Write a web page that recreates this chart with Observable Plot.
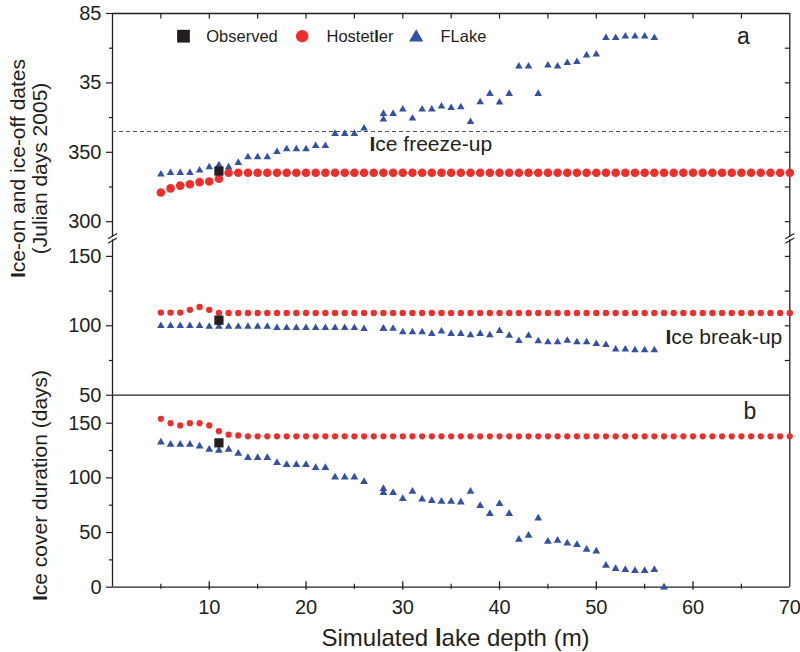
<!DOCTYPE html>
<html><head><meta charset="utf-8">
<script src="https://cdn.jsdelivr.net/npm/d3@7"></script>
<script src="https://cdn.jsdelivr.net/npm/@observablehq/plot@0.6"></script>
<style>
body{margin:0;background:#fff;}
#chart{width:800px;height:652px;position:relative;overflow:hidden;background:#fff;}
#chart svg{display:block;overflow:visible;}
</style></head><body><div id="chart"></div>
<script>
// ---------------- data ----------------
const depthHost = [5,6,7,8,9,10,11,12,13,14,15,16,17,18,19,20,21,22,23,24,25,26,27,28,29,30,31,32,33,34,35,36,37,38,39,40,41,42,43,44,45,46,47,48,49,50,51,52,53,54,55,56,57,58,59,60,61,62,63,64,65,66,67,68,69,70];
const hostOn = [321,324,326,327,328.5,329,331,
  335.3,335.3,335.3,335.3,335.3,335.3,335.3,335.3,335.3,335.3,
  335.3,335.3,335.3,335.3,335.3,335.3,335.3,335.3,335.3,335.3,
  335.3,335.3,335.3,335.3,335.3,335.3,335.3,335.3,335.3,335.3,
  335.3,335.3,335.3,335.3,335.3,335.3,335.3,335.3,335.3,335.3,
  335.3,335.3,335.3,335.3,335.3,335.3,335.3,335.3,335.3,335.3,
  335.3,335.3,335.3,335.3,335.3,335.3,335.3,335.3,335.3];
const hostOff = [109.5,109.5,109.5,111.5,113.5,111.5,109.2,
  109.2,109.2,109.2,109.2,109.2,109.2,109.2,109.2,109.2,109.2,
  109.2,109.2,109.2,109.2,109.2,109.2,109.2,109.2,109.2,109.2,
  109.2,109.2,109.2,109.2,109.2,109.2,109.2,109.2,109.2,109.2,
  109.2,109.2,109.2,109.2,109.2,109.2,109.2,109.2,109.2,109.2,
  109.2,109.2,109.2,109.2,109.2,109.2,109.2,109.2,109.2,109.2,
  109.2,109.2,109.2,109.2,109.2,109.2,109.2,109.2,109.2];
const hostDur = [154,150,148,150,150,148,142.7,139.5,138.8,
  138,138,138,138,138,138,138,138,138,138,
  138,138,138,138,138,138,138,138,138,138,
  138,138,138,138,138,138,138,138,138,138,
  138,138,138,138,138,138,138,138,138,138,
  138,138,138,138,138,138,138,138,138,138,
  138,138,138,138,138,138,138];

const depthFlake = [5,6,7,8,9,10,11,12,13,14,15,16,17,18,19,20,21,22,23,24,25,26,28,28,29,30,31,32,33,34,35,36,37,38,39,40,41,42,43,44,45,46,47,48,49,50,51,52,53,54,55,56];
const flakeOn = [334.1,335.3,335.3,335.3,337.0,339.4,340.8,339.4,342.5,346.6,
  346.6,346.6,350.4,352.3,352.3,352.3,354.7,354.7,363.4,363.4,
  363.4,367.2,377.8,373.7,377.8,380.9,374.4,380.9,380.9,383.1,
  382.1,382.6,372.0,386.2,392.2,386.0,392.2,411.9,411.9,392.2,
  412.6,411.9,414.5,415.2,419.8,420.5,432.5,432.5,433.5,433.5,
  433.5,432.5];
const flakeOff = [100,100,100,100,100,99.5,99.5,99.5,99.5,99.5,
  99.5,99.5,98.5,98.5,98.5,98.5,98.5,98.5,98.5,98.5,
  98.5,97.8,98,98,98,95.5,95.5,95.5,94.3,96,
  94.3,94.3,93.3,94.3,93.3,96.3,93,89.2,93,89,
  88.2,88.2,89.3,88.2,88.2,87,86.3,83,83,82.5,
  82.5,82.5];
const depthFlakeDur = [5,6,7,8,9,10,11,12,13,14,15,16,17,18,19,20,21,22,23,24,25,26,28,28,29,30,31,32,33,34,35,36,37,38,39,40,41,42,43,44,45,46,47,48,49,50,51,52,53,54,55,56,57];
const flakeDur = [132.6,130.5,130.5,130.5,129.0,126.0,125.0,126.0,122.3,118.3,
  118.3,118.3,113.8,111.9,111.9,111.9,109.2,109.2,100.6,100.6,
  100.6,96.4,90.0,86.3,86.3,80.8,87.5,80.5,79.0,78.4,
  78.4,77.8,87.5,74.5,67.1,76.3,67.1,43.6,47.3,63.1,
  41.8,42.7,40.2,38.8,34.5,32.9,19.8,16.8,15.9,15.0,
  15.0,15.9,0];

const depthObs = [11];
const obsOn = [336.5];
const obsOff = [104];
const obsDur = [132];

const freezeDay = 365;

// ticks
const aTickValues = [50,100,150,300,350,400,450];
const aTickLabels = ["50","100","150","300","350","35","85"];
const aMinorTicks = [75,125,325,375,425];
const aRightTicks = [75,100,125,150,300,325,350,375,400,425];
const bTickValues = [0,50,100,150];
const bMinorTicks = [25,75,125];
const xLabelTicks = [10,20,30,40,50,60,70];
const xMajorTicks = [10,20,30,40,50,60];
const xMinorTicks = [5,15,25,35,45,55,65];

const legendLabels = ["Observed","Hostet[l]er","FLake"];

// ---------------- layout ----------------
const OFFSET = 125;                 // axis break: upper (ice-on) segment shifted down
const T = v => v > 200 ? v - OFFSET : v;
const ink = "#231f20", red = "#ec2f2b", blue = "#3352a3";
const font = "'Liberation Sans', Arial, Helvetica, sans-serif";
const ML = 112, MR = 10.7;
const kx = (800 - ML - MR) / 70;
const A_top = 13, A_bot = 394.7, A_dom = [50, 325];
const kA = (A_bot - A_top) / (A_dom[1] - A_dom[0]);
const B_dom = [0, 175.6];
const kB = 192 / B_dom[1];
const TICK_FONT = 20;

const host = depthHost.map((d,i)=>({depth:d, on:T(hostOn[i]), off:hostOff[i], dur:hostDur[i]}));
const flake = depthFlake.map((d,i)=>({depth:d, on:T(flakeOn[i]), off:flakeOff[i]}));
const flakeB = depthFlakeDur.map((d,i)=>({depth:d, dur:flakeDur[i]}));
const obs = depthObs.map((d,i)=>({depth:d, on:T(obsOn[i]), off:obsOff[i], dur:obsDur[i]}));

const labelMap = new Map(aTickValues.map((v,i)=>[T(v), aTickLabels[i]]));

const BR_LO = 162, BR_HI = 164;
const axisSegsA = [0,70].flatMap(x => [{x, y1:A_dom[0], y2:BR_LO}, {x, y1:BR_HI, y2:A_dom[1]}]);
const breaksA = [0,70].flatMap(x => [BR_LO - 0.6, BR_HI + 0.6].map(yc => ({
  x1: x - 4.5/kx, x2: x + 4.5/kx, y1: yc - 2.6/kA, y2: yc + 2.6/kA})));

const style = {fontFamily: font, fontSize: TICK_FONT + "px", color: ink, background: "transparent", overflow: "visible"};

const plotA = Plot.plot({
  width: 800, height: 396, marginLeft: ML, marginRight: MR, marginTop: A_top, marginBottom: 396 - A_bot,
  x: {domain: [0,70], axis: null},
  y: {domain: A_dom},
  style,
  marks: [
    Plot.ruleX(axisSegsA, {x:"x", y1:"y1", y2:"y2", stroke: ink, strokeWidth: 1.3}),
    Plot.ruleY([A_dom[1], A_dom[0]], {stroke: ink, strokeWidth: 1.3}),
    Plot.link(breaksA, {x1:"x1", y1:"y1", x2:"x2", y2:"y2", stroke: ink, strokeWidth: 1.2}),
    Plot.axisY(aTickValues.map(T), {anchor:"left", tickSize:6, tickPadding:5, tickFormat: d => labelMap.get(d), label:null, strokeWidth:1.2, fontSize: TICK_FONT}),
    Plot.axisY(aMinorTicks.map(T), {anchor:"left", tickSize:3, tickFormat: () => "", label:null, strokeWidth:1.2}),
    Plot.link(aRightTicks.map(T), {x1: 70 - 5/kx, x2: 70, y1: d=>d, y2: d=>d, stroke: ink, strokeWidth: 1.2}),
    Plot.link(xMajorTicks.concat(xMinorTicks), {x1: d=>d, x2: d=>d, y1: A_dom[1], y2: A_dom[1] - 5/kA, stroke: ink, strokeWidth: 1.2}),
    Plot.ruleY([T(freezeDay)], {stroke: "#555", strokeDasharray: "4,3", strokeWidth: 1}),
    Plot.dot(host, {x:"depth", y:"on", r:4.3, fill: red, symbol:"circle"}),
    Plot.dot(host, {x:"depth", y:"off", r:3.2, fill: red, symbol:"circle"}),
    Plot.dot(flake, {x:"depth", y:"on", r:2.8, fill: blue, symbol:"triangle"}),
    Plot.dot(flake, {x:"depth", y:"off", r:2.8, fill: blue, symbol:"triangle"}),
    Plot.dot(obs, {x:"depth", y:"on", r:5.2, fill: ink, symbol:"square"}),
    Plot.dot(obs, {x:"depth", y:"off", r:5.2, fill: ink, symbol:"square"}),
    // legend
    Plot.dot([0], {frameAnchor:"top-left", dx:71, dy:22.7, r:7.2, fill: ink, symbol:"square"}),
    Plot.dot([0], {frameAnchor:"top-left", dx:189.7, dy:22.7, r:6.2, fill: red, symbol:"circle"}),
    Plot.dot([0], {frameAnchor:"top-left", dx:303.7, dy:23.9, r:5.3, fill: blue, symbol:"triangle"}),
    Plot.text([legendLabels[0]], {frameAnchor:"top-left", dx:93.7, dy:23, textAnchor:"start", lineAnchor:"middle", fontSize:16.5, fill: ink}),
    Plot.text([legendLabels[1]], {frameAnchor:"top-left", dx:214, dy:23, textAnchor:"start", lineAnchor:"middle", fontSize:16.5, fill: ink}),
    Plot.text([legendLabels[2]], {frameAnchor:"top-left", dx:328, dy:23, textAnchor:"start", lineAnchor:"middle", fontSize:16.5, fill: ink}),
    // annotations
    Plot.text(["a"], {frameAnchor:"top-left", dx:631, dy:30.3, textAnchor:"middle", lineAnchor:"bottom", fontSize:23, fill: ink}),
    Plot.text(["[I]ce freeze-up"], {frameAnchor:"top-left", dx:257, dy:137.5, textAnchor:"start", lineAnchor:"bottom", fontSize:21, fill: ink}),
    Plot.text(["[I]ce break-up"], {frameAnchor:"top-left", dx:553, dy:330.3, textAnchor:"start", lineAnchor:"bottom", fontSize:21, fill: ink}),
    // y title
    Plot.text(["[I]ce-on and ice-off dates"], {frameAnchor:"top-left", dx:24 - ML, dy:168 - A_top, rotate:-90, textAnchor:"middle", lineAnchor:"bottom", fontSize:21, fill: ink}),
    Plot.text(["(Julian days 2005)"], {frameAnchor:"top-left", dx:46.5 - ML, dy:168 - A_top, rotate:-90, textAnchor:"middle", lineAnchor:"bottom", fontSize:21, fill: ink})
  ]
});

const plotB = Plot.plot({
  width: 800, height: 258, marginLeft: ML, marginRight: MR, marginTop: 0.7, marginBottom: 65.3,
  x: {domain: [0,70]},
  y: {domain: B_dom},
  style,
  marks: [
    Plot.ruleX([0,70], {stroke: ink, strokeWidth: 1.3}),
    Plot.ruleY([0], {stroke: ink, strokeWidth: 1.3}),
    Plot.axisY(bTickValues, {anchor:"left", tickSize:6, tickPadding:5, label:null, strokeWidth:1.2, fontSize:TICK_FONT}),
    Plot.axisY(bMinorTicks, {anchor:"left", tickSize:3, tickFormat: () => "", label:null, strokeWidth:1.2}),
    Plot.axisX(xLabelTicks, {anchor:"bottom", tickSize:0, tickPadding:13, label:null, fontSize:TICK_FONT}),
    Plot.link(xMajorTicks, {x1:d=>d, x2:d=>d, y1: -2.5/kB, y2: 6/kB, stroke: ink, strokeWidth: 1.3}),
    Plot.link(xMinorTicks, {x1:d=>d, x2:d=>d, y1: -1.5/kB, y2: 3.5/kB, stroke: ink, strokeWidth: 1.2}),
    Plot.dot(host, {x:"depth", y:"dur", r:3.1, fill: red, symbol:"circle"}),
    Plot.dot(flakeB, {x:"depth", y:"dur", r:2.9, fill: blue, symbol:"triangle"}),
    Plot.dot(obs, {x:"depth", y:"dur", r:5.2, fill: ink, symbol:"square"}),
    Plot.text(["b"], {frameAnchor:"top-left", dx:637.5, dy:23.8, textAnchor:"middle", lineAnchor:"bottom", fontSize:23, fill: ink}),
    Plot.text(["[I]ce cover duration (days)"], {frameAnchor:"top-left", dx:46.7 - ML, dy:90.3, rotate:-90, textAnchor:"middle", lineAnchor:"bottom", fontSize:21, fill: ink}),
    Plot.text(["Simulated [l]ake depth (m)"], {frameAnchor:"bottom", dx:4.4, dy:58.3, textAnchor:"middle", lineAnchor:"bottom", fontSize:24, fill: ink})
  ]
});

function boldify(svg) {
  for (const t of svg.querySelectorAll("text")) {
    if (t.children.length) continue;
    const s = t.textContent;
    if (!s.includes("[")) continue;
    t.textContent = "";
    s.split(/(\[[^\]]*\])/).forEach(part => {
      if (!part) return;
      const ts = document.createElementNS("http://www.w3.org/2000/svg", "tspan");
      if (part.startsWith("[")) { ts.setAttribute("font-weight", "bold"); ts.textContent = part.slice(1, -1); }
      else ts.textContent = part;
      t.appendChild(ts);
    });
  }
  return svg;
}

const chart = document.getElementById("chart");
chart.appendChild(boldify(plotA));
plotB.style.marginTop = "-2px";
chart.appendChild(boldify(plotB));
</script>
</body></html>
